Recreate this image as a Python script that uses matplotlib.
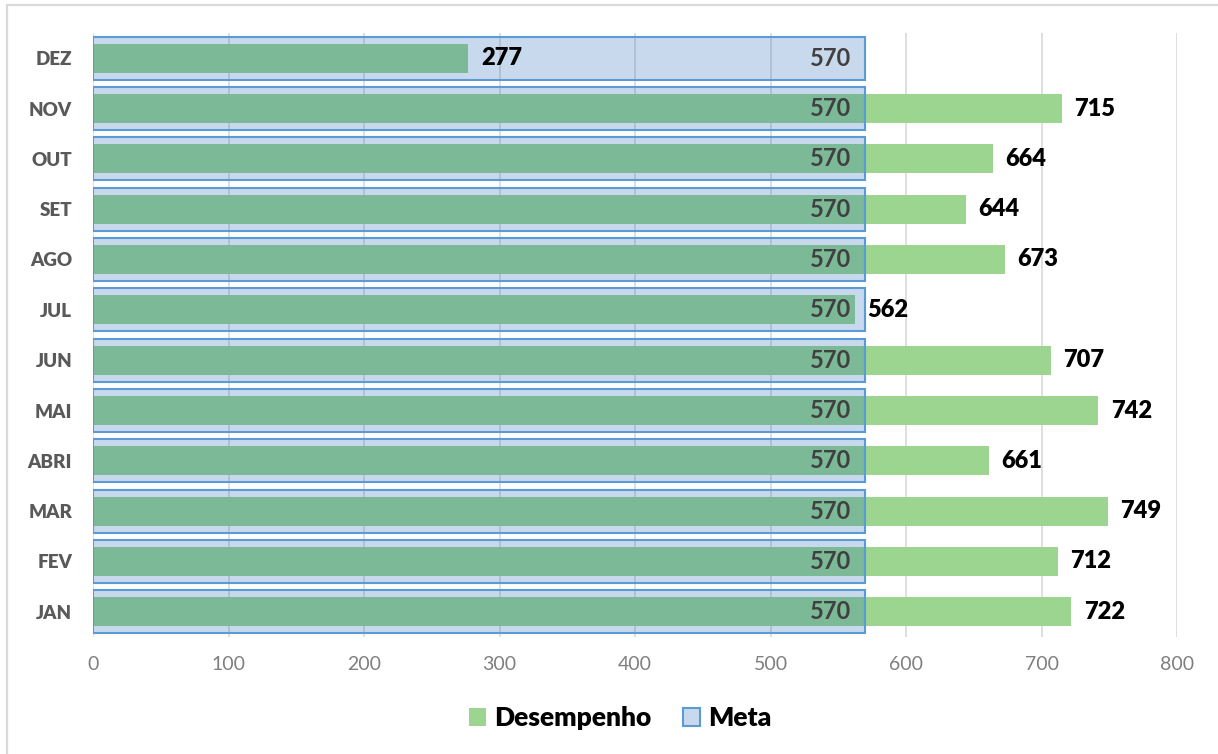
import matplotlib.pyplot as plt
from matplotlib.patches import Rectangle

months = ["JAN", "FEV", "MAR", "ABRI", "MAI", "JUN", "JUL", "AGO", "SET", "OUT", "NOV", "DEZ"]
desempenho = [722, 712, 749, 661, 742, 707, 562, 673, 644, 664, 715, 277]
meta = [570, 570, 570, 570, 570, 570, 570, 570, 570, 570, 570, 570]
x_ticks = [0, 100, 200, 300, 400, 500, 600, 700, 800]

green = "#9BD58F"
meta_face = (0.09, 0.37, 0.71, 0.23)
meta_edge = "#5B9BD5"

plt.rcParams["font.family"] = ["Lato", "DejaVu Sans"]

W, H = 1218, 754
fig = plt.figure(figsize=(W / 100, H / 100), dpi=100)

# outer chart frame (only left and top edges visible)
fig.add_artist(Rectangle((7 / W, -0.1), 1.2, 1 - 5 / H + 0.1, transform=fig.transFigure,
                         facecolor="none", edgecolor="#D9D9D9", lw=1.6))

ax = fig.add_axes([93 / W, 1 - 637 / H, (1177 - 93) / W, (637 - 33) / H])
pos = list(range(len(months)))

ax.barh(pos, desempenho, height=0.58, color=green, zorder=2, label="Desempenho")
ax.barh(pos, meta, height=0.85, facecolor=meta_face, edgecolor=meta_edge,
        linewidth=1.5, zorder=3, label="Meta")

for y, v in zip(pos, desempenho):
    ax.annotate(str(v), (v, y), xytext=(9, 0), textcoords="offset points",
                ha="left", va="center", fontsize=17, fontweight="heavy",
                color="black", zorder=5)
for y, v in zip(pos, meta):
    ax.annotate(str(v), (v, y), xytext=(-10, 0), textcoords="offset points",
                ha="right", va="center", fontsize=17, fontweight="bold",
                color="#404040", zorder=5)

ax.set_xlim(0, 800)
ax.set_ylim(-0.5, 11.5)
ax.set_xticks(x_ticks)
ax.set_yticks(pos)
ax.set_yticklabels(months, fontsize=13.5, fontweight="heavy", color="#595959")
ax.tick_params(axis="x", labelsize=14, labelcolor="#7F7F7F", length=0, pad=14)
ax.tick_params(axis="y", length=0, pad=15)
ax.grid(axis="x", color="#D9D9D9", lw=1.2, zorder=0)
ax.set_axisbelow(True)
for s in ax.spines.values():
    s.set_visible(False)

leg = fig.legend(loc="center", bbox_to_anchor=(620 / W, 1 - 718 / H), ncol=2,
                 frameon=False, prop={"size": 19, "weight": "heavy"},
                 handlelength=0.65, handleheight=0.65, handletextpad=0.3,
                 columnspacing=1.2)

plt.savefig("out.png", dpi=100)
